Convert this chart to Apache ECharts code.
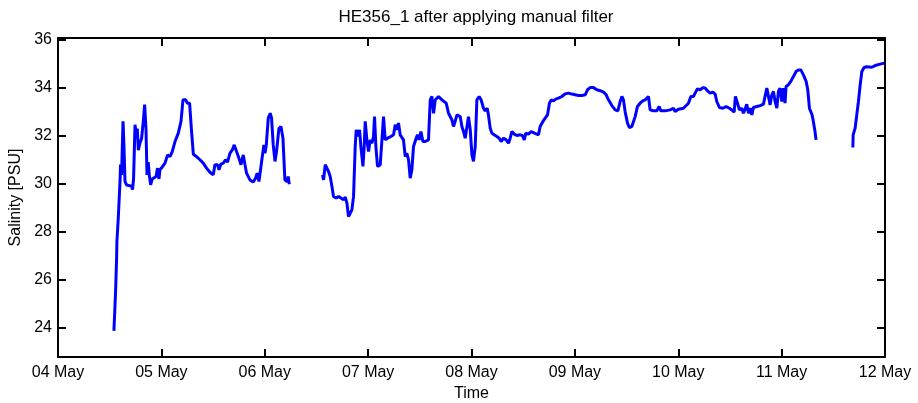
<!DOCTYPE html>
<html>
<head>
<meta charset="utf-8">
<script src="https://cdn.jsdelivr.net/npm/echarts@6/dist/echarts.min.js"></script>
<style>html,body{margin:0;padding:0;background:#fff}#c{width:918px;height:403px}</style>
</head>
<body>
<div id="c"></div>
<script>
// Time in days since 04 May 00:00; null marks a data gap
var days = [
0.541,0.557,0.567,0.570,0.583,0.600,0.605,0.615,0.629,0.638,0.648,0.663,0.712,0.721,0.731,0.745,0.757,0.767,0.777,0.793,0.809,0.825,0.838,0.851,0.861,0.873,0.883,0.896,0.912,0.931,0.948,0.963,0.977,0.986,1.009,1.035,1.060,1.083,1.105,1.132,1.163,1.190,1.209,1.234,1.253,1.273,1.292,1.309,1.340,1.373,1.405,1.437,1.470,1.502,1.518,1.544,1.557,1.576,1.599,1.621,1.640,1.663,1.686,1.705,1.727,1.750,1.770,1.792,1.809,1.824,1.857,1.889,1.911,1.927,1.944,1.959,1.976,1.992,2.002,2.015,2.034,2.053,2.066,2.082,2.099,2.114,2.137,2.157,2.176,2.195,2.215,2.227,2.237,
2.40,
2.559,2.569,2.585,2.602,2.617,2.633,2.650,2.665,2.691,2.714,2.737,2.762,2.779,2.795,2.810,2.827,2.843,2.859,2.875,2.885,2.901,2.917,2.930,2.950,2.962,2.972,2.988,3.004,3.020,3.037,3.052,3.062,3.075,3.091,3.117,3.133,3.149,3.165,3.188,3.220,3.246,3.262,3.279,3.294,3.310,3.342,3.359,3.375,3.391,3.407,3.423,3.439,3.465,3.478,3.494,3.511,3.530,3.552,3.569,3.584,3.601,3.617,3.633,3.649,3.681,3.697,3.714,3.729,3.755,3.778,3.794,3.810,3.826,3.842,3.859,3.874,3.891,3.907,3.923,3.939,3.955,3.971,3.988,4.004,4.019,4.036,4.052,4.074,4.093,4.116,4.132,4.152,4.164,4.181,4.197,4.219,4.245,4.268,4.287,4.309,4.336,4.358,4.374,4.391,4.413,4.439,4.471,4.493,4.510,4.526,4.551,4.577,4.594,4.609,4.626,4.648,4.664,4.691,4.713,4.735,4.754,4.771,4.793,4.819,4.841,4.874,4.906,4.938,4.971,5.003,5.035,5.068,5.083,5.100,5.122,5.148,5.180,5.213,5.245,5.277,5.303,5.325,5.358,5.390,5.416,5.438,5.455,5.470,5.486,5.509,5.528,5.551,5.567,5.583,5.605,5.631,5.657,5.680,5.696,5.712,5.728,5.760,5.793,5.815,5.832,5.873,5.922,5.954,5.970,6.002,6.050,6.067,6.099,6.122,6.147,6.163,6.186,6.212,6.238,6.260,6.282,6.308,6.335,6.357,6.373,6.398,6.431,6.463,6.495,6.518,6.541,6.553,6.573,6.592,6.615,6.630,6.647,6.663,6.679,6.695,6.712,6.727,6.760,6.792,6.824,6.841,6.857,6.872,6.889,6.905,6.921,6.937,6.954,6.969,6.985,7.001,7.017,7.033,7.043,7.066,7.089,7.114,7.140,7.162,7.186,7.211,7.237,7.253,7.269,7.282,7.295,7.307,7.323,7.333,
7.50,
7.689,7.692,7.711,7.727,7.743,7.760,7.776,7.798,7.823,7.872,7.905,7.953,7.992
];
var salinity = [
23.86,25.5,26.9,27.6,28.56,30.1,30.8,30.37,32.6,31.6,30.1,29.95,29.9,29.75,30.2,32.46,32.04,32.3,31.4,31.7,31.9,32.6,33.3,32.3,30.37,30.9,30.37,29.95,30.2,30.16,30.3,30.65,30.2,30.58,30.7,30.86,31.2,31.13,31.34,31.76,32.1,32.6,33.5,33.5,33.36,33.36,32.18,31.23,31.13,31.0,30.86,30.65,30.48,30.37,30.79,30.79,30.58,30.82,30.86,31.0,30.9,31.27,31.41,31.62,31.34,31.07,30.79,31.2,30.79,30.44,30.16,30.07,30.23,30.44,30.09,30.02,31.13,31.62,31.27,31.62,32.74,32.94,32.74,31.62,30.93,31.34,32.3,32.39,31.9,30.16,30.09,30.3,29.98,
null,
30.37,30.16,30.79,30.86,30.51,30.3,29.88,29.47,29.4,29.47,29.4,29.33,29.44,29.19,28.63,28.77,28.91,29.47,31.55,32.25,31.97,32.25,31.55,30.72,31.55,32.6,31.83,31.34,31.83,31.69,31.97,32.8,31.55,30.72,30.79,30.72,32.8,31.83,31.9,31.97,32.04,32.46,32.25,32.53,32.04,31.83,31.13,31.27,31.0,30.23,30.58,31.55,31.9,32.04,31.83,32.18,31.76,31.76,31.69,31.83,33.5,33.64,32.94,33.5,33.64,33.64,33.5,33.43,33.36,32.94,32.87,32.67,32.39,32.6,32.87,32.94,32.8,32.39,32.18,31.9,31.83,32.8,32.25,31.2,30.93,31.55,33.5,33.64,33.5,33.15,33.04,33.15,32.87,32.32,32.11,32.04,31.97,31.9,31.76,31.9,31.83,31.69,31.9,32.18,32.07,32.01,32.04,32.01,31.83,32.11,32.07,32.18,32.25,32.11,32.04,32.04,32.39,32.6,32.74,32.87,33.36,33.5,33.46,33.54,33.57,33.64,33.75,33.78,33.74,33.71,33.68,33.68,33.75,33.71,33.92,34.01,34.01,33.92,33.88,33.82,33.71,33.5,33.26,33.08,33.04,33.43,33.64,33.5,33.01,32.53,32.34,32.39,32.46,32.8,33.22,33.36,33.46,33.5,33.57,33.64,33.08,33.04,33.04,33.22,33.04,33.04,33.08,33.15,33.01,33.11,33.15,33.15,33.36,33.64,33.64,33.78,33.96,33.92,34.01,33.99,33.88,33.78,33.82,33.74,33.43,33.18,33.15,33.22,33.15,33.08,32.99,33.64,33.36,33.08,33.15,32.94,33.12,33.32,32.94,33.15,32.87,33.18,33.22,33.26,33.32,33.29,33.99,33.99,33.29,33.71,33.85,33.43,33.15,33.85,33.99,33.43,33.99,33.36,34.06,34.13,34.27,34.47,34.68,34.75,34.75,34.54,34.27,33.92,33.15,33.22,32.87,32.6,32.18,31.83,
null,
31.51,32.04,32.32,32.87,33.43,34.13,34.68,34.85,34.88,34.86,34.93,34.99,35.03
];
var xTickLabels = ['04 May','05 May','06 May','07 May','08 May','09 May','10 May','11 May','12 May'];
var yTicks = [24,26,28,30,32,34,36];

var data = days.map(function(d,i){ return [d, salinity[i]]; });
var font = '"Liberation Sans", Arial, Helvetica, sans-serif';
var chart = echarts.init(document.getElementById('c'), null, {renderer:'canvas'});
var axisLineStyle = {color:'#000', width:2};
chart.setOption({
  animation:false,
  backgroundColor:'#fff',
  title:{text:'HE356_1 after applying manual filter', left:471, top:4, textAlign:'center',
    textStyle:{fontFamily:font, fontSize:17, fontWeight:'normal', color:'#000'}},
  grid:{left:58, right:33, top:38, bottom:46, containLabel:false, outerBoundsMode:'none'},
  xAxis:[{
    type:'value', min:0, max:8, interval:1, position:'bottom',
    name:'Time', nameLocation:'middle', nameGap:26,
    nameTextStyle:{fontFamily:font, fontSize:16, color:'#000'},
    axisLine:{show:true, onZero:false, lineStyle:axisLineStyle},
    axisTick:{show:true, inside:true, length:8, lineStyle:{color:'#000', width:2}},
    axisLabel:{fontFamily:font, fontSize:16, color:'#000', margin:8,
      formatter:function(v){ return xTickLabels[Math.round(v)]; }},
    splitLine:{show:false}
  },{
    type:'value', min:0, max:8, interval:1, position:'top',
    axisLine:{show:true, onZero:false, lineStyle:axisLineStyle},
    axisTick:{show:true, inside:true, length:8, lineStyle:{color:'#000', width:2}},
    axisLabel:{show:false}, splitLine:{show:false}
  }],
  yAxis:[{
    type:'value', min:22.77, max:36.08, position:'left',
    name:'Salinity [PSU]', nameLocation:'middle', nameGap:28,
    nameTextStyle:{fontFamily:font, fontSize:16, color:'#000'},
    axisLine:{show:true, onZero:false, lineStyle:axisLineStyle},
    axisTick:{show:true, inside:true, length:8, customValues:yTicks, lineStyle:{color:'#000', width:2}},
    axisLabel:{fontFamily:font, fontSize:16, color:'#000', margin:6, customValues:yTicks},
    splitLine:{show:false}
  },{
    type:'value', min:22.77, max:36.08, position:'right',
    axisLine:{show:true, onZero:false, lineStyle:axisLineStyle},
    axisTick:{show:true, inside:true, length:8, customValues:yTicks, lineStyle:{color:'#000', width:2}},
    axisLabel:{show:false}, splitLine:{show:false}
  }],
  series:[{
    type:'line', xAxisIndex:0, yAxisIndex:0, data:data,
    showSymbol:false, symbol:'none', connectNulls:false,
    lineStyle:{color:'#0000ff', width:3}, z:1
  }]
});
</script>
</body>
</html>
